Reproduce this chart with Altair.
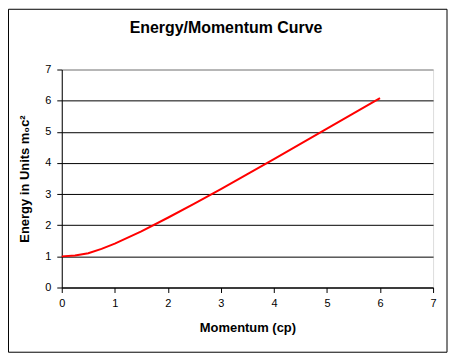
import altair as alt
import pandas as pd

# Data
momentum = [0, 0.25, 0.5, 0.75, 1.0, 1.5, 2.0, 2.5, 3.0, 3.5, 4.0, 4.5, 5.0, 5.5, 6.0]
energy = [1.00, 1.03, 1.10, 1.24, 1.41, 1.80, 2.24, 2.69, 3.16, 3.64, 4.12, 4.61, 5.10, 5.59, 6.08]
ticks = [0, 1, 2, 3, 4, 5, 6, 7]
title_text = ["Energy/Momentum Curve"]

df = pd.DataFrame({"p": momentum, "E": energy})
one = pd.DataFrame({"t": title_text})

FONT = "Liberation Sans"
W, H = 373, 219

line = alt.Chart(df).mark_line(color="#FF0000", strokeWidth=2).encode(
    x=alt.X("p:Q", scale=alt.Scale(domain=[0, 7], nice=False),
            axis=alt.Axis(values=ticks, title="Momentum (cp)", grid=False,
                          tickSize=5, tickColor="black", domainColor="black",
                          labelFont=FONT, labelFontSize=11, labelColor="black",
                          labelPadding=5, labelFlush=False,
                          titleFont=FONT, titleFontSize=13, titleFontWeight="bold",
                          titleColor="black", titleX=W / 2, titleY=40,
                          titleBaseline="middle", titleAlign="center")),
    y=alt.Y("E:Q", scale=alt.Scale(domain=[0, 7], nice=False),
            axis=alt.Axis(values=ticks, title="Energy in Units m\u2080c\u00b2",
                          grid=True,
                          gridColor={"condition": {"test": "datum.value === 7", "value": "#808080"}, "value": "black"},
                          gridWidth=1, gridOpacity=1,
                          tickSize=5, tickColor="black", domainColor="black",
                          labelFont=FONT, labelFontSize=11, labelColor="black",
                          labelPadding=6, labelFlush=False,
                          titleFont=FONT, titleFontSize=13, titleFontWeight="bold",
                          titleColor="black", titleAngle=-90, titleX=-37, titleY=H / 2,
                          titleBaseline="middle", titleAlign="center")),
)

title = alt.Chart(one).mark_text(font=FONT, fontSize=16, fontWeight="bold", color="black",
                                 align="center", baseline="middle").encode(
    text="t:N", x=alt.value(165), y=alt.value(-42))

border = alt.Chart(one).mark_rect(fill=None, stroke="black", strokeWidth=1).encode(
    x=alt.value(-53.5), x2=alt.value(387), y=alt.value(-60.5), y2=alt.value(284))

chart = alt.layer(border, line, title).properties(
    width=W, height=H,
    autosize=alt.AutoSizeParams(type="none"),
    padding={"left": 54, "top": 61, "right": 15, "bottom": 66},
).configure_view(stroke="#808080", strokeWidth=1).configure(background="white")

chart.save("out.html", embed_options={"renderer": "svg", "actions": False})
